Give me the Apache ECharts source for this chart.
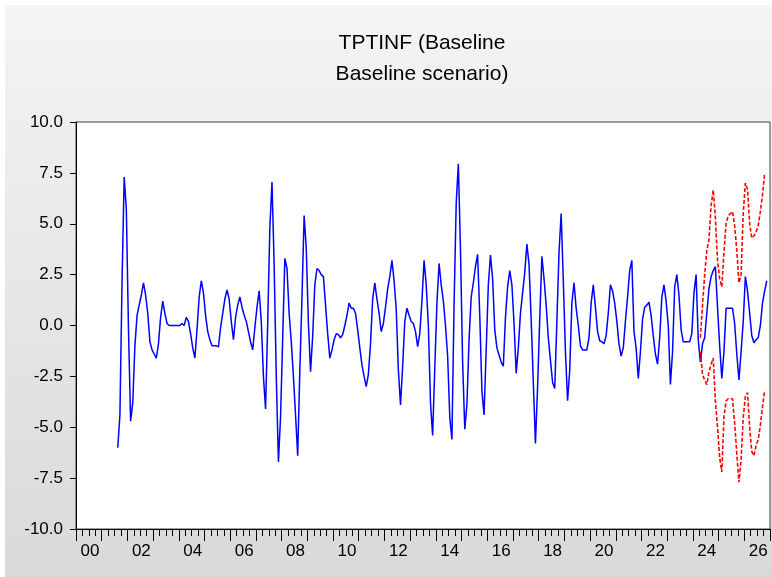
<!DOCTYPE html>
<html>
<head>
<meta charset="utf-8">
<title>TPTINF</title>
<script src="https://cdn.jsdelivr.net/npm/echarts@6/dist/echarts.min.js"></script>
<style>
  html, body { margin: 0; padding: 0; background: #fff; }
  #chart { width: 772px; height: 577px; }
</style>
</head>
<body>
<div id="chart"></div>
<script>
// monthly sample 2000M01 .. 2026M12
var firstYear = 2000
var lastYear = 2026
var labelYears = ['00', '02', '04', '06', '08', '10', '12', '14', '16', '18', '20', '22', '24', '26']
var yTicks = [-10, -7.5, -5, -2.5, 0, 2.5, 5, 7.5, 10]

// TPTINF baseline, starts 2001M08 (one row per year)
var baselineStart = '2001M08'
var baseline = [
  -6.0, -4.4, 2.2, 7.3, 5.7,
  -0.2, -4.7, -3.8, -1.0, 0.5, 1.0, 1.5, 2.1, 1.5, 0.6, -0.8, -1.2,
  -1.4, -1.6, -0.9, 0.4, 1.2, 0.6, 0.1, 0.0, 0.0, 0.0, 0.0, 0.0,
  0.0, 0.1, 0.0, 0.4, 0.2, -0.4, -1.1, -1.6, -0.2, 1.4, 2.2, 1.6,
  0.5, -0.3, -0.7, -1.0, -1.0, -1.0, -1.05, -0.1, 0.6, 1.3, 1.75, 1.3,
  0.2, -0.7, 0.4, 1.0, 1.4, 0.9, 0.5, 0.2, -0.3, -0.8, -1.2, -0.1,
  0.9, 1.7, 0.2, -2.5, -4.1, 0.1, 4.8, 7.05, 3.0, -2.5, -6.7, -4.5,
  -0.6, 3.3, 2.8, 0.6, -0.8, -2.5, -4.4, -6.4, -2.2, 1.4, 5.4, 3.8,
  0.1, -2.27, -0.5, 2.0, 2.8, 2.7, 2.5, 2.4, 1.0, -0.4, -1.6, -1.2,
  -0.7, -0.4, -0.45, -0.6, -0.45, 0.0, 0.5, 1.1, 0.85, 0.85, 0.6, -0.2,
  -1.1, -1.95, -2.5, -3.0, -2.4, -0.9, 1.3, 2.1, 1.3, 0.6, -0.3, 0.1,
  0.9, 1.8, 2.4, 3.2, 2.2, 0.8, -2.2, -3.9, -2.0, 0.2, 0.85, 0.5,
  0.2, 0.1, -0.3, -1.04, -0.4, 1.2, 3.2, 2.0, 0.0, -3.8, -5.4, -2.1,
  1.1, 3.05, 2.0, 1.2, 0.0, -1.5, -4.5, -5.6, 1.0, 6.0, 7.95, 3.7,
  -1.8, -5.1, -3.9, -0.7, 1.4, 2.1, 2.9, 3.5, 0.5, -3.2, -4.4, -1.2,
  2.0, 3.46, 2.3, -0.2, -1.1, -1.45, -1.8, -2.0, 0.4, 1.9, 2.7, 2.0,
  0.1, -2.35, -1.1, 0.6, 1.6, 2.6, 4.0, 3.0, 0.3, -2.8, -5.8, -3.0,
  0.3, 3.4, 2.3, 1.0, -0.6, -1.7, -2.8, -3.1, 0.2, 3.6, 5.5, 2.2,
  -1.3, -3.7, -2.2, 1.1, 2.1, 0.85, 0.0, -1.0, -1.2, -1.2, -1.2, -0.6,
  1.1, 2.0, 0.9, -0.3, -0.75, -0.8, -0.9, -0.5, 0.6, 2.0, 1.7, 1.1,
  0.2, -0.9, -1.5, -1.1, 0.2, 1.4, 2.7, 3.2, -0.3, -1.1, -2.6, -1.3,
  0.3, 0.9, 1.0, 1.15, 0.5, -0.5, -1.4, -1.9, -0.6, 1.4, 2.0, 1.2,
  0.0, -2.9, -1.3, 1.9, 2.5, 1.5, -0.2, -0.8, -0.8, -0.8, -0.8, -0.4,
  1.6, 2.5, -0.7, -1.8, -0.9, -0.6, 0.6, 1.8, 2.4, 2.7, 2.9, 0.9,
  -1.0, -2.6, -1.3, 0.85, 0.85, 0.85, 0.85, 0.1, -1.4, -2.68, -1.3, 0.2,
  2.4, 1.7, 0.6, -0.5, -0.85, -0.7, -0.6, 0.0, 1.1, 1.7, 2.2
]

// scenario bands, start 2024M04
var bandStart = '2024M04'
var bandUpper = [
  -0.6, 1.0, 2.5, 3.7, 4.2, 5.9, 6.66, 5.3, 3.2,
  2.3, 1.9, 3.6, 5.0, 5.4, 5.5, 5.6, 4.9, 3.7, 2.1, 2.5, 5.5,
  7.0, 6.7, 5.0, 4.3, 4.4, 4.6, 4.9, 5.6, 6.4, 7.5
]
var bandLower = [
  -1.3, -2.4, -2.7, -2.9, -2.3, -1.9, -1.6, -3.7, -5.0,
  -6.5, -7.2, -4.5, -3.7, -3.6, -3.6, -3.6, -4.8, -6.3, -7.7, -6.6, -4.5,
  -3.5, -3.3, -5.0, -6.2, -6.4, -5.9, -5.6, -4.9, -4.0, -3.2
]

var months = []
for (var y = firstYear; y <= lastYear; y++) {
  for (var m = 1; m <= 12; m++) {
    months.push(y + 'M' + (m < 10 ? '0' + m : m))
  }
}

function pad (start, values) {
  var idx = months.indexOf(start)
  var out = []
  for (var i = 0; i < idx; i++) out.push(null)
  return out.concat(values)
}

var font = "'Liberation Sans', Arial, sans-serif"

// helper axis in month units, used only to draw the tick marks
function tickAxis (step, len) {
  return {
    type: 'value',
    position: 'bottom',
    min: 0,
    max: months.length,
    interval: step,
    axisLine: { show: false, onZero: false },
    axisTick: { show: true, length: len, lineStyle: { color: '#000' } },
    axisLabel: { show: false },
    splitLine: { show: false }
  }
}

var chart = echarts.init(document.getElementById('chart'))
chart.setOption({
  animation: false,
  backgroundColor: '#fff',
  graphic: [
    {
      type: 'rect',
      z: -1,
      silent: true,
      shape: { x: 5, y: 5, width: 767, height: 572 },
      style: {
        fill: new echarts.graphic.LinearGradient(0, 0, 0, 1, [
          { offset: 0, color: '#f4f4f4' },
          { offset: 1, color: '#d9d9d9' }
        ])
      }
    }
  ],
  title: {
    text: 'TPTINF (Baseline\nBaseline scenario)',
    left: 422,
    top: 28,
    padding: 0,
    textAlign: 'center',
    textStyle: {
      fontFamily: font,
      fontSize: 21,
      fontWeight: 'normal',
      color: '#000',
      lineHeight: 31
    }
  },
  grid: {
    left: 76,
    right: 2,
    top: 122,
    bottom: 48,
    show: true,
    backgroundColor: '#fff',
    borderColor: '#444',
    borderWidth: 1
  },
  xAxis: [
    {
      type: 'category',
      data: months,
      position: 'bottom',
      boundaryGap: true,
      axisLine: { onZero: false, lineStyle: { color: '#000', width: 1 } },
      axisTick: { show: false },
      axisLabel: {
        interval: function (index) {
          return index % 12 === 6 && labelYears.indexOf(months[index].slice(2, 4)) >= 0
        },
        formatter: function (v) { return v.slice(2, 4) },
        margin: 14,
        fontFamily: font,
        fontSize: 17,
        color: '#000'
      },
      splitLine: { show: false }
    },
    tickAxis(3, 7),   // quarters
    tickAxis(12, 12)  // years
  ],
  yAxis: {
    type: 'value',
    min: yTicks[0],
    max: yTicks[yTicks.length - 1],
    interval: 2.5,
    axisLine: { show: true, lineStyle: { color: '#000' } },
    axisTick: { show: true, length: 6, lineStyle: { color: '#000' } },
    axisLabel: {
      formatter: function (v) { return v.toFixed(1) },
      margin: 13,
      fontFamily: font,
      fontSize: 17,
      color: '#000'
    },
    splitLine: { show: false }
  },
  series: [
    {
      name: 'Baseline',
      type: 'line',
      showSymbol: false,
      data: pad(baselineStart, baseline),
      lineStyle: { color: '#0000ff', width: 1.5 },
      z: 3
    },
    {
      name: 'Upper',
      type: 'line',
      showSymbol: false,
      data: pad(bandStart, bandUpper),
      lineStyle: { color: '#ff0000', width: 1.6, type: [4, 2] },
      z: 4
    },
    {
      name: 'Lower',
      type: 'line',
      showSymbol: false,
      data: pad(bandStart, bandLower),
      lineStyle: { color: '#ff0000', width: 1.6, type: [4, 2] },
      z: 4
    }
  ]
})
</script>
</body>
</html>
